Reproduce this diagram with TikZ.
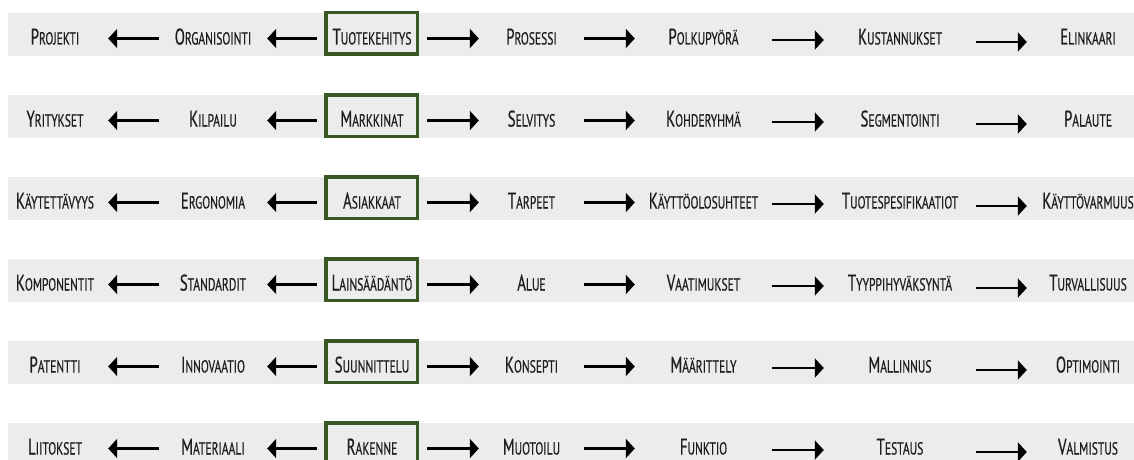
\documentclass[tikz,border=0pt]{standalone}
\usepackage{fontspec}
\usetikzlibrary{arrows.meta}
\newfontfamily\agency[FakeStretch=0.66,FakeBold=0.5]{PT Sans}
\definecolor{bandgray}{RGB}{236,236,236}
\definecolor{boxgreen}{RGB}{56,87,35}
\definecolor{txt}{RGB}{30,30,30}
\def\wordaux#1#2\relax{{\fontsize{22.5}{22.5}\selectfont#1}{\fontsize{17.5}{17.5}\selectfont\MakeUppercase{#2}}}
\newcommand\scword[1]{\expandafter\wordaux#1\relax}
\tikzset{
  cell/.style={inner xsep=0pt, inner ysep=0pt, text height=15pt, text depth=0pt,
    font=\agency, text=txt, anchor=center},
  arr/.style={line width=2.6pt, -{Triangle[length=9pt,width=19pt]}},
  hbox/.style={draw=boxgreen, line width=3.5pt, minimum width=91.5pt, minimum height=41.5pt, inner sep=0pt},
  band/.style={fill=bandgray}
}
\begin{document}
\begin{tikzpicture}[x=1pt,y=-1pt]
\clip (0,0) rectangle (1134,460);
\foreach \y/\ta/\tb/\tc/\td/\te/\tf/\tg [count=\i] in {
  37/Projekti/Organisointi/Tuotekehitys/Prosessi/Polkupyörä/Kustannukset/Elinkaari,
  119/Yritykset/Kilpailu/Markkinat/Selvitys/Kohderyhmä/Segmentointi/Palaute,
  201/Käytettävyys/Ergonomia/Asiakkaat/Tarpeet/Käyttöolosuhteet/Tuotespesifikaatiot/Käyttövarmuus,
  283/Komponentit/Standardit/Lainsäädäntö/Alue/Vaatimukset/Tyyppihyväksyntä/Turvallisuus,
  365/Patentti/Innovaatio/Suunnittelu/Konsepti/Määrittely/Mallinnus/Optimointi,
  447/Liitokset/Materiaali/Rakenne/Muotoilu/Funktio/Testaus/Valmistus}{
  \fill[band] (8,\y-24) rectangle (1134,\y+19);
  \node[hbox] (b\i) at (371.5,\y-3.5) {};
  \node[cell, minimum width=106pt] (a\i) at (55,\y) {\scword{\ta}};
  \node[cell, minimum width=108pt] (bb\i) at (213,\y) {\scword{\tb}};
  \node[cell, minimum width=110pt] (c\i) at (372,\y) {\scword{\tc}};
  \node[cell, minimum width=105pt] (d\i) at (531.5,\y) {\scword{\td}};
  \node[cell, minimum width=137pt] (e\i) at (703.5,\y) {\scword{\te}};
  \node[cell, minimum width=152pt] (f\i) at (900,\y) {\scword{\tf}};
  \node[cell, minimum width=122pt] (g\i) at (1088,\y) {\scword{\tg}};
  \draw[arr] ([yshift=-1.5pt]bb\i.west) -- ([yshift=-1.5pt]a\i.east);
  \draw[arr] ([yshift=-1.5pt]c\i.west) -- ([yshift=-1.5pt]bb\i.east);
  \draw[arr] ([yshift=-1.5pt]c\i.east) -- ([yshift=-1.5pt]d\i.west);
  \draw[arr] ([yshift=-1.5pt]d\i.east) -- ([yshift=-1.5pt]e\i.west);
  \draw[arr] ([yshift=-3pt]e\i.east) -- ([yshift=-3pt]f\i.west);
  \draw[arr] ([yshift=-5pt]f\i.east) -- ([yshift=-5pt]g\i.west);
}
\end{tikzpicture}
\end{document}
